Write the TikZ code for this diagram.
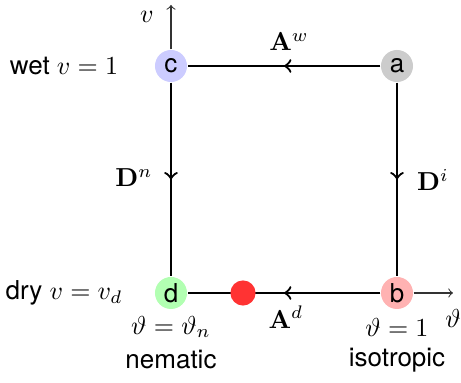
\documentclass[tikz,border=0pt]{standalone}
\usepackage[no-math]{fontspec}
\setmainfont{TeX Gyre Heros}
\usetikzlibrary{decorations.markings}
\begin{document}
\begin{tikzpicture}[x=0.01352cm,y=-0.01352cm,
  state/.style={circle,minimum size=0.433cm,inner sep=0pt,font=\normalsize},
  edge/.style={thick,postaction={decorate},decoration={markings,mark=at position 0.5 with {\arrow[scale=1.1]{>}}}},
  axis/.style={thin,black!80,->}]
\useasboundingbox (0,0) rectangle (461,383);
\node[state,fill=blue!20] (c) at (171,66) {c};
\node[state,fill=black!20] (a) at (397,66) {a};
\node[state,fill=green!30] (d) at (171,293) {d};
\node[state,fill=red!30] (b) at (397,293) {b};
\coordinate (vtop) at (171,5);
\coordinate (tright) at (453,293);
\draw[axis] (c) -- (vtop);
\draw[axis] (b) -- (tright);
\draw[edge] (a) -- (c);
\draw[edge] (c) -- (d);
\draw[edge] (a) -- (b);
\draw[edge] (b) -- (d);
\node[circle,fill=red!80,minimum size=0.34cm,inner sep=0pt] (r) at (243,293) {};
\node (lv) at (147,17) {$v$};
\node (lt) at (453,318) {$\vartheta$};
\node (aw) at (289,42) {$\mathbf{A}^w$};
\node (ad) at (286,317) {$\mathbf{A}^d$};
\node (dn) at (134,178) {$\mathbf{D}^n$};
\node (di) at (433,180) {$\mathbf{D}^i$};
\node (wet) at (64,66) {wet $v=1$};
\node (dry) at (64,293) {dry $v=v_d$};
\node (tn) at (171,327) {$\vartheta=\vartheta_n$};
\node (nem) at (171,360) {nematic};
\node (t1) at (397,327) {$\vartheta=1$};
\node (iso) at (397,360) {isotropic};
\end{tikzpicture}
\end{document}
